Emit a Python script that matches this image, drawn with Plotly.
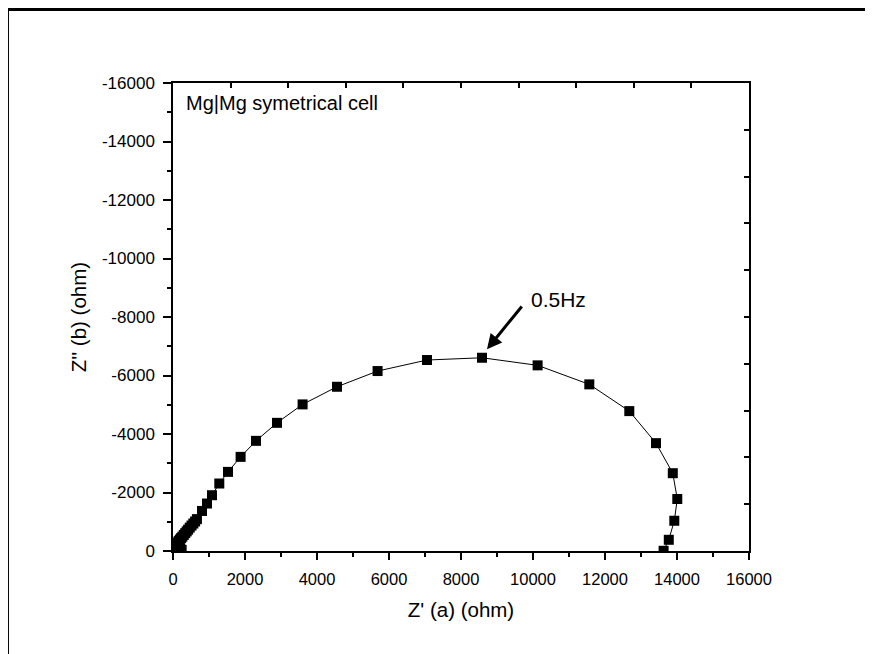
import plotly.graph_objects as go

# Nyquist data (ohm)
z_real = [240, 200, 150, 110, 90, 105, 130, 160, 190, 225, 260, 300, 340, 380, 420, 465, 515, 565, 615, 665,
          806, 944, 1083, 1286, 1528, 1878, 2306, 2889, 3600, 4556, 5683, 7056, 8583,
          10128, 11564, 12675, 13417, 13883, 14008, 13925, 13772, 13628]
z_imag = [-40, -80, -120, -160, -200, -245, -290, -340, -390, -440, -490, -550, -610, -670, -730, -800, -870, -940, -1010, -1090,
          -1369, -1623, -1907, -2307, -2705, -3218, -3766, -4382, -5012, -5615, -6152, -6529, -6607,
          -6347, -5697, -4783, -3687, -2660, -1777, -1034, -383, -7]

x_range = [0, 16000]
y_range = [0, -16000]
x_tickvals = [0, 2000, 4000, 6000, 8000, 10000, 12000, 14000, 16000]
x_ticktext = ["0", "2000", "4000", "6000", "8000", "10000", "12000", "14000", "16000"]
y_tickvals = [0, -2000, -4000, -6000, -8000, -10000, -12000, -14000, -16000]
y_ticktext = ["0", "-2000", "-4000", "-6000", "-8000", "-10000", "-12000", "-14000", "-16000"]
label_text = "Mg|Mg symetrical cell"
freq_label = "0.5Hz"
freq_point = (8722, -6895)
freq_tail = (9722, -8411)
freq_text_pos = (9897, -8583)

FONT = "Liberation Sans, Arial, sans-serif"

fig = go.Figure()
fig.add_trace(go.Scatter(
    x=z_real, y=z_imag, mode="lines+markers",
    line=dict(color="black", width=1),
    marker=dict(symbol="square", size=10, color="black"),
    showlegend=False, hoverinfo="skip"))
# invisible trace for the mirror axes
fig.add_trace(go.Scatter(x=[x_range[0]], y=[y_range[0]], xaxis="x2", yaxis="y2",
                         mode="markers", marker=dict(opacity=0), showlegend=False,
                         hoverinfo="skip"))

axis_common = dict(showgrid=False, zeroline=False, showline=True, linecolor="black",
                   linewidth=1.5, tickcolor="black", tickwidth=1.5)

fig.update_layout(
    width=865, height=646,
    margin=dict(l=165, r=124, t=75, b=103),
    paper_bgcolor="white", plot_bgcolor="white",
    font=dict(family=FONT, color="black", size=16),
    xaxis=dict(range=x_range, tickmode="array", tickvals=x_tickvals, ticktext=x_ticktext,
               ticks="outside", ticklen=7, ticklabelstandoff=5,
               minor=dict(dtick=1000, ticks="outside", ticklen=4, tickcolor="black", tickwidth=1.5),
               title=dict(text="Z' (a) (ohm)", font=dict(size=20.5), standoff=16),
               tickfont=dict(size=16.5), **axis_common),
    yaxis=dict(range=y_range, tickmode="array", tickvals=y_tickvals, ticktext=y_ticktext,
               ticks="outside", ticklen=8, ticklabelstandoff=5,
               minor=dict(dtick=1000, ticks="outside", ticklen=4, tickcolor="black", tickwidth=1.5),
               title=dict(text="Z'' (b) (ohm)", font=dict(size=20.5), standoff=10),
               tickfont=dict(size=17), **axis_common),
    xaxis2=dict(range=x_range, overlaying="x", side="top", dtick=1600, ticks="inside",
                ticklen=5, showticklabels=False, **axis_common),
    yaxis2=dict(range=y_range, overlaying="y", side="right", dtick=1600, ticks="inside",
                ticklen=5, showticklabels=False, **axis_common),
)

fig.add_annotation(x=0.019, y=0.957, xref="paper", yref="paper", text=label_text,
                   showarrow=False, xanchor="left", yanchor="middle",
                   font=dict(size=20, family=FONT, color="black"))
fig.add_annotation(x=freq_point[0], y=freq_point[1], ax=freq_tail[0], ay=freq_tail[1],
                   xref="x", yref="y", axref="x", ayref="y", text="",
                   showarrow=True, arrowhead=2, arrowsize=1, arrowwidth=3, arrowcolor="black")
fig.add_annotation(x=freq_text_pos[0], y=freq_text_pos[1], xref="x", yref="y", text=freq_label,
                   showarrow=False, xanchor="left", yanchor="middle",
                   font=dict(size=21, family=FONT, color="black"))

# outer frame lines of the original figure
fig.add_shape(type="line", xref="paper", yref="paper", x0=-0.288, x1=1.25, y0=1.157, y1=1.157,
              line=dict(color="black", width=3))
fig.add_shape(type="line", xref="paper", yref="paper", x0=-0.2865, x1=-0.2865, y0=1.16, y1=-0.25,
              line=dict(color="black", width=2))

fig.write_html("out.html")
